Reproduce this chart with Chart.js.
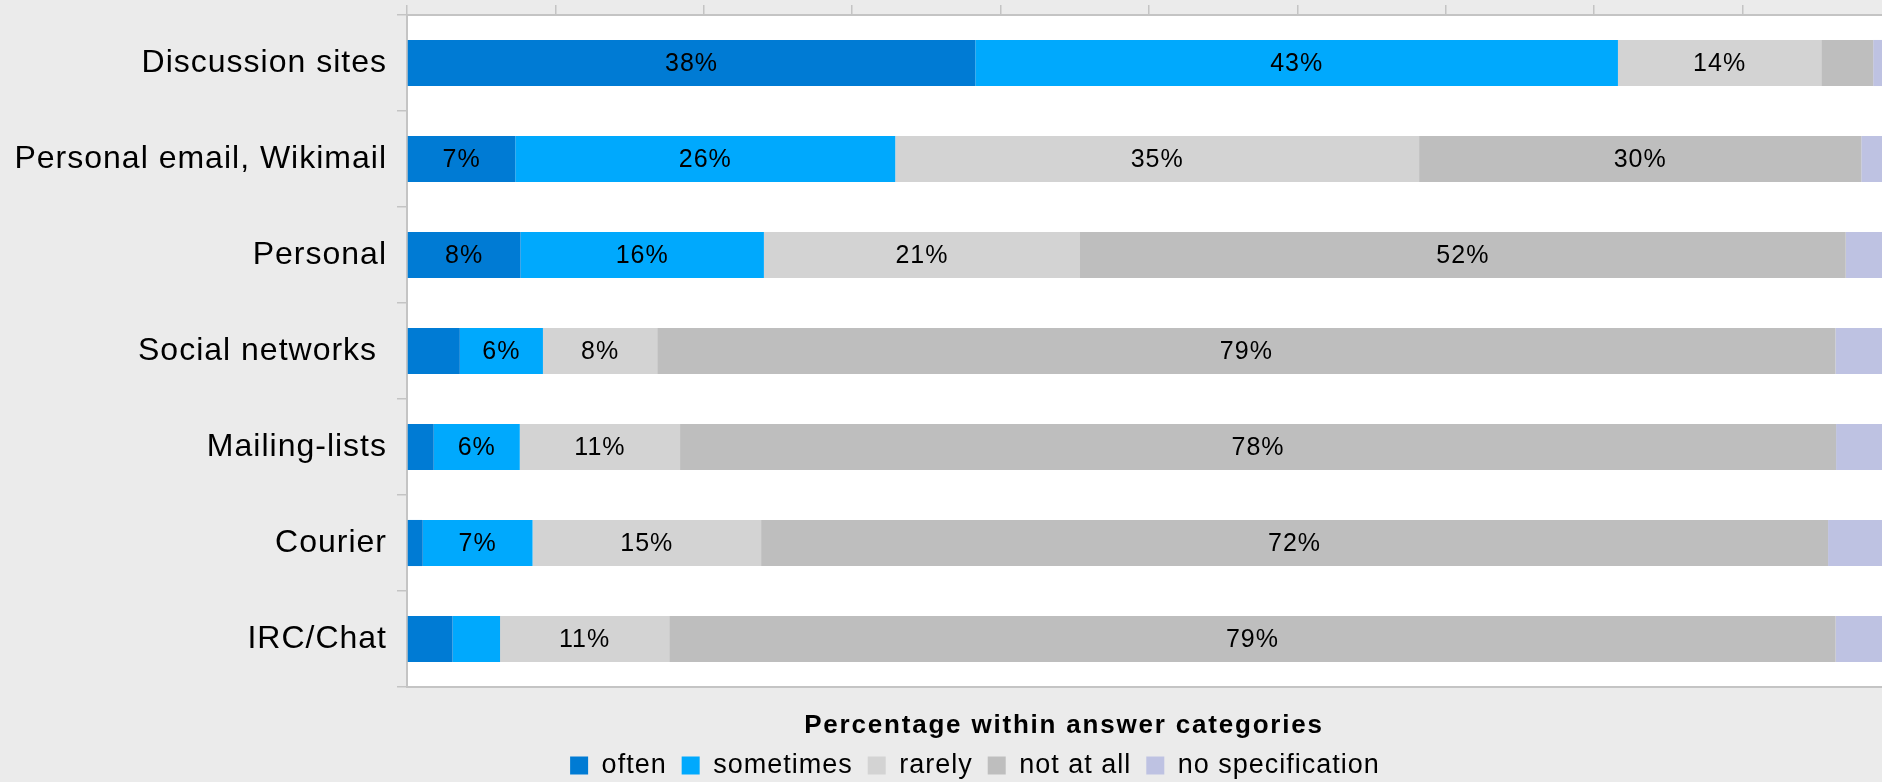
<!DOCTYPE html>
<html>
<head>
<meta charset="utf-8">
<title>Communication channels</title>
<script src="https://cdn.jsdelivr.net/npm/chart.js@4.4.1/dist/chart.umd.min.js"></script>
<style>
  html, body { margin: 0; padding: 0; overflow: hidden; background: #ebebeb; }
  #wrap { width: 1950px; height: 782px; }
</style>
</head>
<body>
<div id="wrap"><canvas id="chart" width="1950" height="782"></canvas></div>
<script>
// Channels (one horizontal bar each), top to bottom
const channels = ['Discussion sites', 'Personal email, Wikimail', 'Personal', 'Social networks ', 'Mailing-lists', 'Courier', 'IRC/Chat'];

// Share of answers per channel, in percent
const often           = [38.3, 7.3,  7.65, 3.56, 1.8,  1.06, 3.07];
const sometimes       = [43.3, 25.6, 16.4, 5.6,  5.8,  7.4,  3.2];
const rarely          = [13.7, 35.3, 21.3, 7.7,  10.8, 15.4, 11.4];
const notAtAll        = [3.5,  29.8, 51.6, 79.4, 77.9, 71.9, 78.6];
const noSpecification = [1.2,  2.0,  3.05, 3.74, 3.7,  4.24, 3.73];

const seriesNames  = ['often', 'sometimes', 'rarely', 'not at all', 'no specification'];
const seriesValues = [often, sometimes, rarely, notAtAll, noSpecification];
const seriesColors = ['#007bd4', '#00a9fd', '#d3d3d3', '#bebebe', '#bec2e2'];

const axisCaptionText = 'Percentage within answer categories';

Chart.defaults.font.family = '"Liberation Sans", Arial, sans-serif';
Chart.defaults.color = '#000000';

const lineGrey = '#c4c4c4';

// Slightly widened glyph spacing for all canvas text
const textSpacing = {
  id: 'textSpacing',
  beforeUpdate(chart, args, opts) { chart.ctx.letterSpacing = opts.spacing; },
  beforeDraw(chart, args, opts) { chart.ctx.letterSpacing = opts.spacing; }
};

// White plotting area on the grey page
const plotBackground = {
  id: 'plotBackground',
  beforeDraw(chart, args, opts) {
    const { ctx, chartArea: a } = chart;
    ctx.save();
    ctx.fillStyle = opts.color;
    ctx.fillRect(a.left, a.top, a.right - a.left, a.bottom - a.top);
    ctx.restore();
  }
};

// Rounded percent labels centred in each segment that is wide enough
const segmentLabels = {
  id: 'segmentLabels',
  afterDatasetsDraw(chart, args, opts) {
    const ctx = chart.ctx;
    ctx.save();
    ctx.font = opts.font;
    ctx.fillStyle = opts.color;
    ctx.textAlign = 'center';
    ctx.textBaseline = 'middle';
    chart.data.datasets.forEach((ds, i) => {
      const meta = chart.getDatasetMeta(i);
      if (meta.hidden) return;
      meta.data.forEach((bar, j) => {
        const v = ds.data[j];
        if (v < opts.minValue) return;
        ctx.fillText(Math.round(v) + '%', (bar.x + bar.base) / 2, bar.y + 1);
      });
    });
    ctx.restore();
  }
};

// Caption above the legend row
const axisCaption = {
  id: 'axisCaption',
  afterDraw(chart, args, opts) {
    const ctx = chart.ctx;
    ctx.save();
    ctx.font = opts.font;
    ctx.letterSpacing = opts.spacing;
    ctx.fillStyle = opts.color;
    ctx.textAlign = 'center';
    ctx.textBaseline = 'alphabetic';
    ctx.fillText(opts.text, opts.x, opts.y);
    ctx.restore();
  }
};

new Chart(document.getElementById('chart'), {
  type: 'bar',
  data: {
    labels: channels,
    datasets: seriesValues.map((values, i) => ({
      label: seriesNames[i],
      data: values,
      backgroundColor: seriesColors[i],
      borderWidth: 0,
      barPercentage: 0.48,
      categoryPercentage: 1,
      xAxisID: 'x',
      yAxisID: 'y'
    }))
  },
  options: {
    indexAxis: 'y',
    responsive: false,
    animation: false,
    devicePixelRatio: 1,
    layout: { padding: { top: 5, left: 0, right: 0, bottom: 0 } },
    scales: {
      x: {
        position: 'top',
        stacked: true,
        min: 0,
        max: 100,
        ticks: { display: false, stepSize: 10 },
        grid: { drawOnChartArea: false, drawTicks: true, tickLength: 10, color: lineGrey, lineWidth: 1.5 },
        border: { display: true, color: lineGrey, width: 2 }
      },
      x2: {
        type: 'linear',
        position: 'bottom',
        display: true,
        min: 0,
        max: 100,
        ticks: { display: false },
        grid: { display: false, drawTicks: false },
        border: { display: true, color: lineGrey, width: 2 },
        afterFit(scale) { scale.height = 50; }
      },
      y: {
        stacked: true,
        ticks: { color: '#000000', font: { size: 32 }, padding: 10 },
        grid: { offset: true, drawOnChartArea: false, drawTicks: true, tickLength: 10, color: lineGrey, lineWidth: 1.5 },
        border: { display: true, color: lineGrey, width: 2 },
        afterFit(scale) {
          scale.width = 407;
          scale.paddingTop = 0;
          scale.paddingBottom = 0;
        }
      },
      y2: {
        axis: 'y',
        type: 'linear',
        position: 'right',
        display: true,
        ticks: { display: false },
        grid: { display: false, drawTicks: false },
        border: { display: false },
        afterFit(scale) { scale.width = 59; }
      }
    },
    plugins: {
      legend: {
        position: 'bottom',
        maxHeight: 45,
        labels: { boxWidth: 18, boxHeight: 18, padding: 15, color: '#000000', font: { size: 27 } }
      },
      tooltip: { enabled: false },
      textSpacing: { spacing: '1px' },
      plotBackground: { color: '#ffffff' },
      segmentLabels: { font: '25px "Liberation Sans", Arial, sans-serif', color: '#000000', minValue: 5 },
      axisCaption: {
        text: axisCaptionText,
        font: 'bold 26px "Liberation Sans", Arial, sans-serif',
        spacing: '1.8px',
        color: '#000000',
        x: 1064,
        y: 733
      }
    }
  },
  plugins: [textSpacing, plotBackground, segmentLabels, axisCaption]
});
</script>
</body>
</html>
